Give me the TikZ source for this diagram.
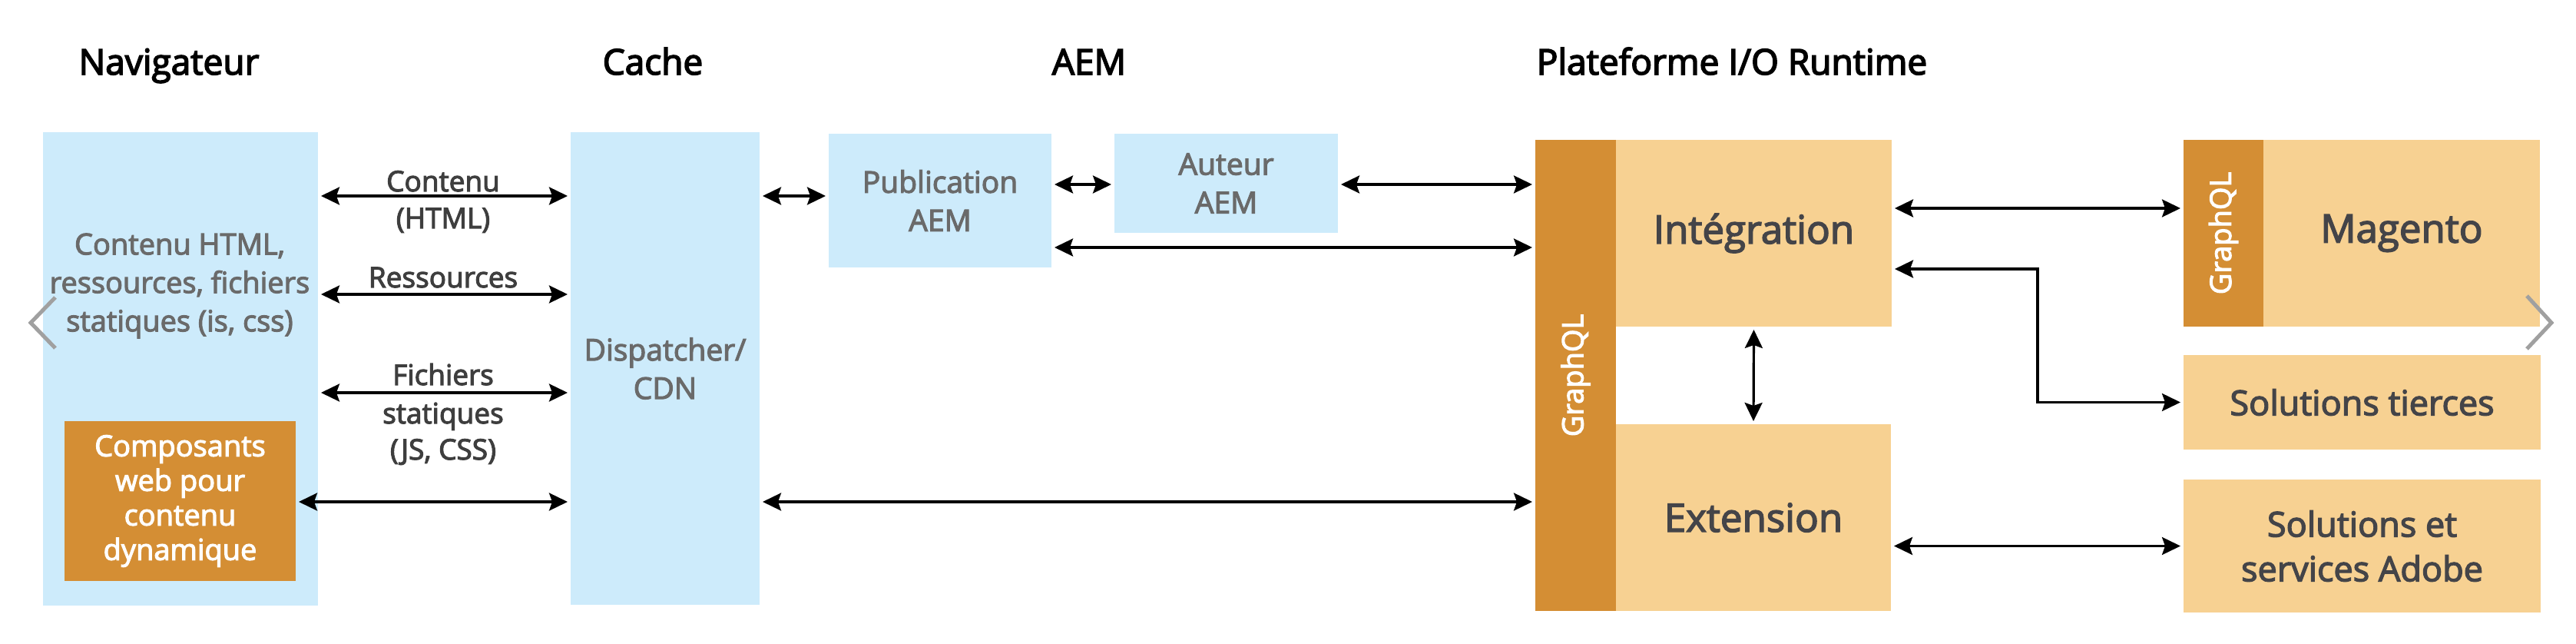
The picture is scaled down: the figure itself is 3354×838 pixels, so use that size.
\documentclass[tikz,border=0pt]{standalone}
\usepackage{fontspec}
\setmainfont{Open Sans}
\newfontfamily\bodyfont[FakeBold=3]{Open Sans}
\newfontfamily\titlefont[FakeBold=3.5]{Open Sans}
\usetikzlibrary{arrows.meta}
\definecolor{lblue}{RGB}{205,235,251}
\definecolor{dorange}{RGB}{212,142,52}
\definecolor{lorange}{RGB}{247,209,146}
\definecolor{graytxt}{RGB}{106,106,106}
\definecolor{darktxt}{RGB}{68,68,72}
\definecolor{lbltxt}{RGB}{62,62,62}
\definecolor{chev}{RGB}{160,160,160}
\tikzset{
  title/.style={font=\titlefont\fontsize{23}{27}\selectfont, text=black, inner sep=0pt, anchor=base},
  bbox/.style={fill=lblue, inner sep=0pt, outer sep=0pt, align=center, text=graytxt,
    font=\bodyfont\fontsize{19.5}{25}\selectfont},
  dbox/.style={fill=dorange, inner sep=0pt, outer sep=0pt, align=center, text=white,
    font=\bodyfont\fontsize{19}{22.5}\selectfont},
  obox/.style={fill=lorange, inner sep=0pt, outer sep=0pt, align=center, text=darktxt,
    font=\bodyfont\fontsize{25.5}{30}\selectfont},
  sbox/.style={obox, font=\bodyfont\fontsize{22.5}{29}\selectfont},
  btxt/.style={inner sep=0pt, align=center, text=graytxt, font=\bodyfont\fontsize{19}{25}\selectfont},
  gtxt/.style={inner sep=0pt, text=white, rotate=90, font=\bodyfont\fontsize{19}{23}\selectfont},
  lbl/.style={inner sep=0pt, anchor=base, text=lbltxt, font=\bodyfont\fontsize{18.5}{23}\selectfont},
  arr/.style={line width=1.6pt, shorten <=2pt, shorten >=2pt,
    arrows={Stealth[length=12pt,width=11.5pt,inset=2pt]-Stealth[length=12pt,width=11.5pt,inset=2pt]}},
  chevron/.style={draw=chev, line width=2.5pt}
}
\begin{document}
\begin{tikzpicture}[x=0.5pt,y=-0.5pt]
\fill[white] (0,0) rectangle (3354,838);
\useasboundingbox (0,0) rectangle (3354,838);

% titles
\node[title] (tnav) at (220,97) {Navigateur};
\node[title] (tcache) at (850,97) {Cache};
\node[title] (taem) at (1418,97) {AEM};
\node[title] (tio) at (2255,97) {Plateforme I/O Runtime};

% browser
\node[bbox, minimum width=179pt, minimum height=308pt] (nav) at (235,480) {};
\node[btxt] (navtxt) at (234,372) {Contenu HTML,\\ressources, fichiers\\statiques (is, css)};
\node[dbox, minimum width=150.5pt, minimum height=104pt] (compos) at (234.5,652)
  {Composants\\web pour\\contenu\\dynamique};

% cache
\node[bbox, minimum width=123pt, minimum height=307.5pt] (cache) at (866,479.5) {Dispatcher/\\CDN};

% AEM
\node[bbox, minimum width=145pt, minimum height=87pt] (pub) at (1224,261) {Publication\\AEM};
\node[bbox, minimum width=145.5pt, minimum height=64.5pt] (aut) at (1596.5,238.5) {Auteur\\AEM};

% I/O Runtime
\node[dbox, minimum width=52.5pt, minimum height=306.5pt] (gql) at (2051.5,488.5) {};
\node[gtxt] (gqltxt) at (gql.center) {GraphQL};
\node[obox, minimum width=179.5pt, minimum height=121.5pt] (integ) at (2283.5,303.5) {Intégration};
\node[obox, minimum width=179pt, minimum height=121.5pt] (ext) at (2283,673.5) {Extension};

% right side
\node[dbox, minimum width=52pt, minimum height=121.5pt] (mgql) at (2895,303.5) {};
\node[gtxt] (mgqltxt) at (mgql.center) {GraphQL};
\node[obox, minimum width=180pt, minimum height=121.5pt] (mag) at (3127,303.5) {Magento};
\node[sbox, minimum width=232.5pt, minimum height=61.5pt] (tier) at (3075.5,523.5) {Solutions tierces};
\node[sbox, minimum width=232.5pt, minimum height=86.5pt] (adobe) at (3075.5,710.5) {Solutions et\\services Adobe};

% arrow rows
\coordinate (rA) at (0,255);
\coordinate (rB) at (0,383);
\coordinate (rC) at (0,511);
\coordinate (rD) at (0,653);
\coordinate (rE) at (0,240);
\coordinate (rF) at (0,322);
\coordinate (rG) at (0,271);
\coordinate (bend) at (2653,350);

% labels
\node[lbl] (lcont) at (577,249) {Contenu};
\node[lbl] (lhtml) at (577,297) {(HTML)};
\node[lbl] (lres) at (577,374) {Ressources};
\node[lbl] (lfich) at (577,501) {Fichiers};
\node[lbl] (lstat) at (577,551) {statiques};
\node[lbl] (ljs) at (577,598) {(JS, CSS)};

% connectors
\draw[arr] (nav.east |- rA) -- (cache.west |- rA);
\draw[arr] (nav.east |- rB) -- (cache.west |- rB);
\draw[arr] (nav.east |- rC) -- (cache.west |- rC);
\draw[arr] (compos.east |- rD) -- (cache.west |- rD);
\draw[arr] (cache.east |- rA) -- (pub.west |- rA);
\draw[arr] (cache.east |- rD) -- (gql.west |- rD);
\draw[arr] (pub.east |- rE) -- (aut.west |- rE);
\draw[arr] (aut.east |- rE) -- (gql.west |- rE);
\draw[arr] (pub.east |- rF) -- (gql.west |- rF);
\draw[arr] (integ.east |- rG) -- (mgql.west |- rG);
\draw[arr] (integ.east |- bend) -- (bend) |- (tier.west);
\draw[arr] (integ.south) -- (ext.north);
\draw[arr] (ext.east |- adobe.west) -- (adobe.west);

% slider chevrons
\draw[chevron] (72,387) -- (40,420) -- (72,453);
\draw[chevron] (3290,385) -- (3322,420) -- (3290,454);
\end{tikzpicture}
\end{document}
